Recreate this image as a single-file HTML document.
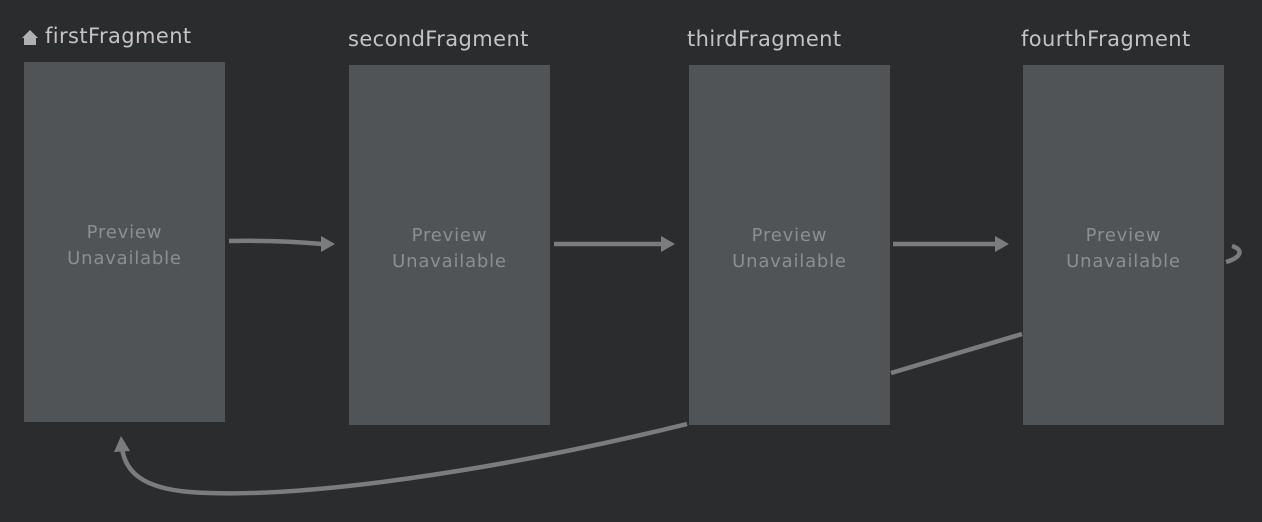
<!DOCTYPE html>
<html><head><style>
body{margin:0;width:1262px;height:522px;background:#2b2c2e;overflow:hidden;position:relative;font-family:"DejaVu Sans","Liberation Sans",sans-serif}
.b{position:absolute;width:201px;height:360px;background:#505457}
.t{position:absolute;width:201px;text-align:center;color:#8b8f92;font-size:18px;line-height:26px;letter-spacing:0.8px}
.l{position:absolute;color:#c4c4c4;font-size:21px;letter-spacing:0.4px}
</style></head><body>
<div class="b" style="left:24px;top:62px"></div>
<div class="b" style="left:349px;top:65px"></div>
<div class="b" style="left:689px;top:65px"></div>
<div class="b" style="left:1023px;top:65px"></div>
<div class="t" style="left:24px;top:220px">Preview<br>Unavailable</div>
<div class="t" style="left:349px;top:223px">Preview<br>Unavailable</div>
<div class="t" style="left:689px;top:223px">Preview<br>Unavailable</div>
<div class="t" style="left:1023px;top:223px">Preview<br>Unavailable</div>
<div class="l" style="left:45px;top:24px">firstFragment</div>
<div class="l" style="left:348px;top:27px">secondFragment</div>
<div class="l" style="left:687px;top:27px">thirdFragment</div>
<div class="l" style="left:1021px;top:27px">fourthFragment</div>
<svg width="1262" height="522" style="position:absolute;left:0;top:0">
<path d="M22 38 L30 30 L38 38 L36 38 L36 45 L24 45 L24 38Z" fill="#b0b0b0"/>
<g stroke="#7a7c7e" stroke-width="4.5" fill="none">
<path d="M229 241 Q280 240 322 244"/>
<path d="M554 244 L662 244"/>
<path d="M893 244 L996 244"/>
<path d="M891 373 L1022 334"/>
<path d="M687 424 C500 470 300 500 190 492 C140 488 125 470 122 448"/>
<path d="M1226 262 C1240 258 1245 250 1232 246"/>
</g>
<g fill="#7a7c7e">
<path d="M321 236 L335 244 L321 252Z"/>
<path d="M661 236 L675 244 L661 252Z"/>
<path d="M995 236 L1009 244 L995 252Z"/>
<path d="M114 452 L121 436 L130 451Z"/>
</g>
</svg>
</body></html>
